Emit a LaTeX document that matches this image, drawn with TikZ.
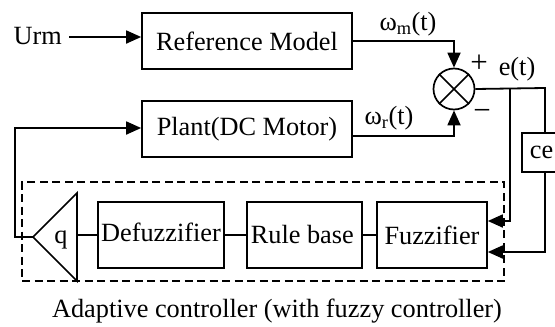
\documentclass[tikz,border=0pt]{standalone}
\usepackage{fontspec}
\setmainfont{Liberation Serif}
\usetikzlibrary{arrows.meta,calc}
\begin{document}
\begin{tikzpicture}[x=1pt,y=-1pt,
  box/.style={draw,line width=1.7pt,inner sep=0pt,font=\fontsize{26.3}{31}\selectfont},
  wire/.style={line width=1.8pt},
  arr/.style={wire,-{Triangle[length=15pt,width=13pt]}},
  lbl/.style={inner sep=0pt,font=\fontsize{26.3}{31}\selectfont},
  sign/.style={inner sep=0pt,font=\fontsize{31}{36}\selectfont},
  dashbox/.style={draw,line width=1.6pt,dash pattern=on 8pt off 4.5pt}]
\useasboundingbox (0,0) rectangle (555,327);
\clip (0,0) rectangle (555,327);
% controller frame
\node[dashbox,inner sep=0pt,minimum width=482pt,minimum height=99pt] (ctrl) at (263,231.5) {};
% main boxes
\node[box,minimum width=210pt,minimum height=56pt] (ref) at (247,41) {Reference Model};
\node[box,minimum width=210pt,minimum height=56pt] (plant) at (247,129) {Plant(DC Motor)};
\node[box,minimum width=126pt,minimum height=66pt] (defuzz) at (161,235) {\raisebox{5pt}{Defuzzifier}};
\node[box,minimum width=115pt,minimum height=66pt] (rule) at (304.5,235) {\raisebox{-4pt}{Rule base\,}};
\node[box,minimum width=110pt,minimum height=66pt] (fuzz) at (432,235) {\raisebox{-4pt}{Fuzzifier}};
\node[box,anchor=west,minimum height=39pt,minimum width=70pt,text width=66pt,align=left] (ce) at (521,152.5) {\hspace*{6pt}ce};
% summing junction
\node[draw,circle,line width=1.7pt,minimum size=41pt,inner sep=0pt] (sum) at (454,89) {};
\draw[line width=1.7pt] (sum.north west) -- (sum.south east) (sum.north east) -- (sum.south west);
% gain triangle
\coordinate (qtip) at (33,237);
\coordinate (qtop) at (77,193);
\coordinate (qbot) at (77,281);
\draw[line width=1.7pt,line join=miter] (qtop) -- (qtip) -- (qbot) -- cycle;
\coordinate (qbase) at (77,235);
\node[lbl] (q) at (61,240) {q};
% labels
\node[lbl,anchor=east] (urm) at (62,36) {Urm};
\node[lbl] (wm) at (408,24) {ω\textsubscript{m}(t)};
\node[lbl] (wr) at (389,118) {ω\textsubscript{r}(t)};
\node[sign] (plus) at (479,64) {+};
\node[sign] (minus) at (482,115) {\textminus};
\node[lbl] (et) at (517,69) {e(t)};
\node[lbl] (cap) at (277,311) {Adaptive controller (with fuzzy controller)};
% connectors
\coordinate (urmout) at (69,37);
\draw[arr] (urmout) -- (urmout -| ref.west);
\draw[arr] (ref.east) -| (sum.north);
\coordinate (plout) at ($(plant.east)+(0,7)$);
\draw[arr] (plout) -| (sum.south);
\coordinate (ej) at (545,88);
\coordinate (eb) at (510,88);
\draw[wire] (sum.east) -- (ej) -- (ej |- ce.north);
\draw[arr] (eb) -- (510,221) -- (fuzz.east |- 0,221);
\draw[arr] (ej |- ce.south) -- (545,252) -- (fuzz.east |- 0,252);
\draw[wire] (fuzz.west) -- (rule.east);
\draw[wire] (defuzz.east) -- (rule.west);
\draw[wire] (qbase) -- (defuzz.west);
\draw[arr] (qtip) -- (15,237) -- (15,128) -- (plant.west |- 0,128);
\end{tikzpicture}
\end{document}
